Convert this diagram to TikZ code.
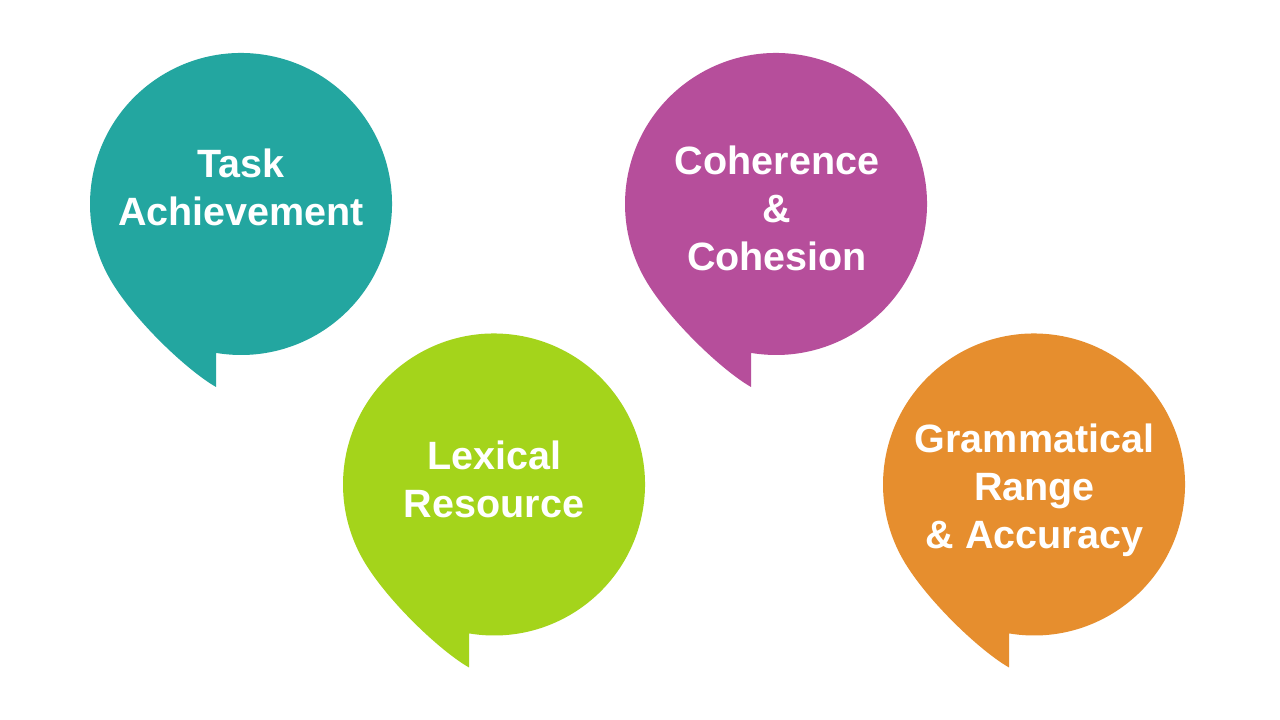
\documentclass[tikz,border=0pt]{standalone}
\usepackage{fontspec}
\setmainfont{Liberation Sans}
\usepackage{xcolor}
\definecolor{critteal}{RGB}{35,166,160}
\definecolor{critplum}{RGB}{182,78,155}
\definecolor{critlime}{RGB}{164,212,27}
\definecolor{critamber}{RGB}{230,142,46}
\usepackage{tikz}
\usetikzlibrary{positioning}
\tikzset{
  pics/bubble/.style={code={
    \fill (-0.25,-1.83) -- (-99.5:1.51) arc[start angle=-99.5,end angle=210,radius=1.51]
      .. controls (-1.083,-1.145) and (-0.553,-1.655) .. (-0.25,-1.83) -- cycle;
  }},
  label/.style={text=white,align=center,font=\fontsize{11.24}{13.66}\selectfont\bfseries},
}
\begin{document}
\begin{tikzpicture}
  \useasboundingbox[fill=white] (0,0) rectangle (12.8,7.2);
  % speech bubbles
  \pic[fill=critteal]  (taskbub) at (2.41,5.16)  {bubble};
  \pic[fill=critplum]  (cohbub)  at (7.76,5.16)  {bubble};
  \pic[fill=critlime]  (lexbub)  at (4.94,2.355) {bubble};
  \pic[fill=critamber] (grambub) at (10.34,2.355) {bubble};
  % criteria
  \node[label] (task) at (2.41,5.33)  {Task\\Achievement};
  \node[label] (coh)  at (7.77,5.12)  {Coherence\\\&\\Cohesion};
  \node[label] (lex)  at (4.94,2.41)  {Lexical\\Resource};
  \node[label] (gram) at (10.345,2.30) {Grammatical\\Range\\\& Accuracy};
\end{tikzpicture}
\end{document}
